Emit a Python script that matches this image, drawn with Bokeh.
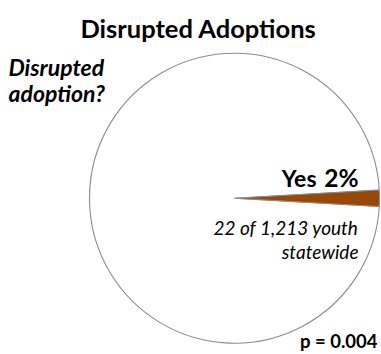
import math
from bokeh.plotting import figure
from bokeh.models import Range1d, ColumnDataSource
from bokeh.core.properties import value
from bokeh.embed import file_html
from bokeh.resources import INLINE

# ---- data ----
categories = ["No", "Yes"]
counts = [1191, 22]
slice_colors = ["#FFFFFF", "#984807"]
title_text = "Disrupted Adoptions"
question_lines = ["Disrupted", "adoption?"]
yes_label = "Yes"
yes_pct_label = "2%"
detail_lines = ["22 of 1,213 youth", "statewide"]
p_value_label = "p = 0.004"

W, H = 381, 354
FONT = "Lato"

def Y(py):
    return H - py

p = figure(width=W, height=H, output_backend="svg", toolbar_location=None,
           x_range=Range1d(0, W), y_range=Range1d(0, H), min_border=0,
           outline_line_color=None, background_fill_color="white",
           border_fill_color="white")
p.xaxis.visible = False
p.yaxis.visible = False
p.grid.visible = False

# pie: "Yes" slice centred on the 3 o'clock direction
total = sum(counts)
yes_frac = counts[1] / total
yes_start = -yes_frac * math.pi
starts = [yes_start + 2 * math.pi * yes_frac, yes_start]
ends = [yes_start + 2 * math.pi, yes_start + 2 * math.pi * yes_frac]
src = ColumnDataSource(dict(cat=categories, val=counts, color=slice_colors,
                            start=starts, end=ends))
cx, cy, r = 234, Y(197.7), 145
p.wedge(x=cx, y=cy, radius=r, start_angle="start", end_angle="end",
        fill_color="color", line_color="#8C8C8C", line_width=1.1, source=src)

def txt(x, y, s, size, style="normal", align="left", color="#000000"):
    p.text(x=[x], y=[Y(y)], text=[s], text_font=value(FONT),
           text_font_size=value(f"{size}px"), text_font_style=value(style),
           text_align=value(align), text_baseline=value("alphabetic"),
           text_color=value(color))

txt(198, 27, title_text, 25.5, "bold", "center")
txt(8, 66, question_lines[0], 23, "bold italic")
txt(8, 92, question_lines[1], 23, "bold italic")
txt(358, 177, yes_pct_label, 24.5, "bold", "right")
txt(316, 177, yes_label, 23, "bold", "right")
txt(358, 227, detail_lines[0], 19, "italic", "right")
txt(358, 251, detail_lines[1], 19, "italic", "right")
txt(377, 340, p_value_label, 18.5, "bold", "right")

open("out.html", "w").write(file_html(p, INLINE))
